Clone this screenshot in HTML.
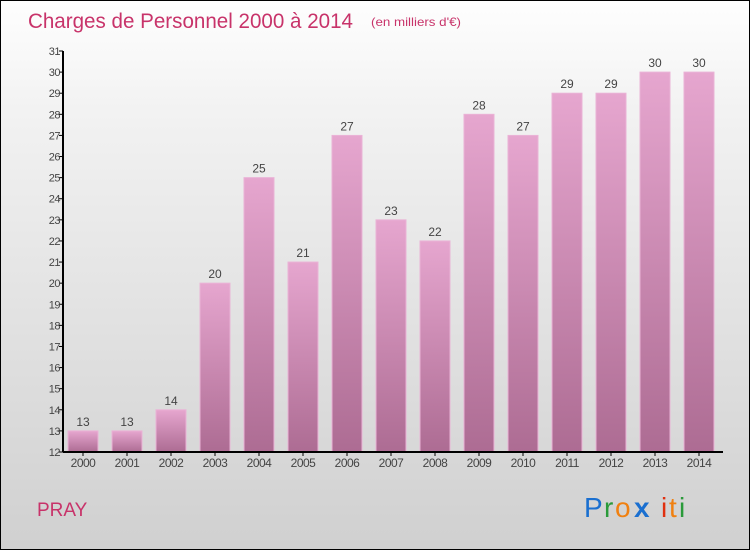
<!DOCTYPE html>
<html><head><meta charset="utf-8"><style>
body{margin:0;width:750px;height:550px;overflow:hidden}
#c{position:absolute;left:0;top:0;width:748px;height:548px;border:1px solid #000;background:linear-gradient(#fefefe,#f2f2f2 20%,#d0d0d0)}
text{font-family:"Liberation Sans",sans-serif}
</style></head><body>
<div id="c">
<svg id="s" width="750" height="550">
<defs><linearGradient id="g" x1="0" y1="0" x2="0" y2="1"><stop offset="0" stop-color="#e6a6cf"/><stop offset="1" stop-color="#ad6c93"/></linearGradient></defs>
<text x="27" y="27" font-size="21" fill="#c8336a" textLength="325" lengthAdjust="spacingAndGlyphs">Charges de Personnel 2000 à 2014</text>
<text x="370" y="25" font-size="12" fill="#c8336a" textLength="90" lengthAdjust="spacingAndGlyphs">(en milliers d'€)</text>
<text x="36" y="515" font-size="19" fill="#c8336a">PRAY</text>
<g font-size="28">
<text x="583" y="516" fill="#1a6fd0">P</text><text x="603" y="516" fill="#2a9a3a">r</text><text x="614" y="516" fill="#f08010">o</text><text x="633" y="516" fill="#1a6fd0" font-weight="bold">x</text><text x="660" y="516" fill="#e03010">i</text><text x="668" y="516" fill="#f08010">t</text><text x="678" y="516" fill="#2a9a3a">i</text>
</g>
<g id="bars"></g><g id="axes"></g>
</svg></div>
<script>
const categories=["2000","2001","2002","2003","2004","2005","2006","2007","2008","2009","2010","2011","2012","2013","2014"];
const values=[13,13,14,20,25,21,27,23,22,28,27,29,29,30,30];
const yTicks=[12,13,14,15,16,17,18,19,20,21,22,23,24,25,26,27,28,29,30,31];
const NS="http://www.w3.org/2000/svg";
const x0=62,step=44,yMin=12,yMax=31,yTop=50,yBot=451;
const y=v=>yBot-(v-yMin)*(yBot-yTop)/(yMax-yMin);
const xb=i=>x0+i*step+5;
function mk(t,a,p){const e=document.createElementNS(NS,t);for(const k in a)e.setAttribute(k,a[k]);p.appendChild(e);return e;}
const bars=document.getElementById('bars'),axes=document.getElementById('axes');
values.forEach((v,i)=>{
 const r=mk('rect',{x:xb(i),y:y(v),width:30,height:yBot-y(v),fill:'url(#g)',stroke:'#eab3d6','stroke-width':1},bars);
 
 
 const t=mk('text',{x:xb(i)+15,y:y(v)-5,'font-size':12,fill:'#444','text-anchor':'middle'},bars);t.textContent=v;
 
 
 const c=mk('text',{x:xb(i)+15,y:466,'font-size':12,fill:'#444','text-anchor':'middle','letter-spacing':'-0.5'},axes);c.textContent=categories[i];
 
 
 mk('line',{x1:xb(i)+15,x2:xb(i)+15,y1:yBot,y2:yBot+4,stroke:'#000'},axes);
});
yTicks.forEach(v=>{
 mk('line',{x1:x0-4,x2:x0,y1:y(v),y2:y(v),stroke:'#000'},axes);
 const t=mk('text',{x:x0-3,y:y(v)+4,'font-size':11,fill:'#444','text-anchor':'end','letter-spacing':'-0.5'},axes);t.textContent=v;
 
 
});
const ya=mk('line',{x1:x0,x2:x0,y1:yTop,y2:yBot,stroke:'#000','stroke-width':2},axes);


const xa=mk('line',{x1:x0,x2:722,y1:yBot,y2:yBot,stroke:'#000','stroke-width':2},axes);


</script></body></html>
